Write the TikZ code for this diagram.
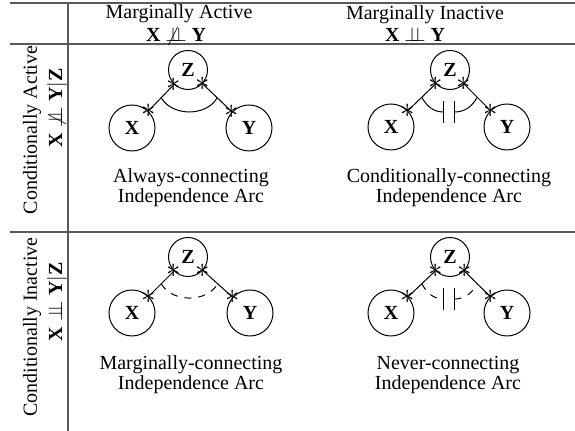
\documentclass[tikz,border=0pt]{standalone}
\usepackage{fontspec}
\setmainfont{Liberation Serif}
\usetikzlibrary{calc}
\newcommand{\myindep}{\mathrel{\perp\!\!\!\perp}}
\newcommand{\mynindep}{\mathrel{\not\perp\!\!\!\perp}}
\begin{document}
\begin{tikzpicture}[x=0.5pt,y=0.5pt,
  rule/.style={draw=black!65, line width=0.6pt},
  var/.style={circle, draw, line width=0.5pt, inner sep=0pt, minimum size=23pt, font=\normalsize},
  zvar/.style={circle, draw, line width=0.5pt, inner sep=0pt, minimum size=19.5pt, font=\normalsize},
  edge/.style={draw, line width=0.5pt},
  astk/.style={inner sep=0pt, font=\Large},
  arcline/.style={draw, line width=0.5pt},
  dasharc/.style={draw, line width=0.5pt, dash pattern=on 3.5pt off 3.5pt},
  txt/.style={anchor=base, inner sep=0pt}]
\useasboundingbox (0,0) rectangle (575,431);
% table rules
\draw[rule] (10,428) -- (575,428);
\draw[rule] (10,387) -- (575,387);
\draw[rule] (10,199) -- (575,199);
\draw[rule] (68,428) -- (68,0);
% headers
\node[txt] (h1) at (179,412) {Marginally Active};
\node[txt] (h1b) at (176,389) {\textbf{X} $\mynindep$ \textbf{Y}};
\node[txt] (h2) at (425,411) {Marginally Inactive};
\node[txt] (h2b) at (415,389) {\textbf{X} $\myindep$ \textbf{Y}};
% row headers
\node[txt, rotate=90] (r1) at (37,301) {Conditionally Active};
\node[txt, rotate=90] (r1b) at (62,323) {\textbf{X} $\mynindep$ \textbf{Y}$|$\textbf{Z}};
\node[txt, rotate=90] (r2) at (37,104) {Conditionally Inactive};
\node[txt, rotate=90] (r2b) at (62,129) {\textbf{X} $\myindep$ \textbf{Y}$|$\textbf{Z}};
% ---- panel 1
\node[zvar] (Z1) at (188,361) {$\mathbf{Z}$};
\node[var] (X1) at (132,303) {$\mathbf{X}$};
\node[var] (Y1) at (249,303) {$\mathbf{Y}$};
\draw[edge] (Z1) -- (X1) node[astk,pos=0]{$\ast$} node[astk,pos=1]{$\ast$} coordinate[pos=0.5] (a1);
\draw[edge] (Z1) -- (Y1) node[astk,pos=0]{$\ast$} node[astk,pos=1]{$\ast$} coordinate[pos=0.5] (b1);
\draw[arcline] (a1) to[out=-60,in=-120] (b1);
\node[txt] (l1) at (191,248) {Always-connecting};
\node[txt] (l1b) at (191,228) {Independence Arc};
% ---- panel 2
\node[zvar] (Z2) at (450,361) {$\mathbf{Z}$};
\node[var] (X2) at (391,304) {$\mathbf{X}$};
\node[var] (Y2) at (507,304) {$\mathbf{Y}$};
\draw[edge] (Z2) -- (X2) node[astk,pos=0]{$\ast$} node[astk,pos=1]{$\ast$} coordinate[pos=0.5] (a2);
\draw[edge] (Z2) -- (Y2) node[astk,pos=0]{$\ast$} node[astk,pos=1]{$\ast$} coordinate[pos=0.5] (b2);
\coordinate (m2l) at ($(Z2)+(-6.5,-42)$);
\coordinate (m2r) at ($(Z2)+(4.5,-42)$);
\draw[arcline] (a2) to[out=-60,in=180] (m2l);
\draw[arcline] (m2r) to[out=0,in=-120] (b2);
\draw[arcline] ($(m2l)+(0,-11)$) -- ($(m2l)+(0,11)$);
\draw[arcline] ($(m2r)+(0,-11)$) -- ($(m2r)+(0,11)$);
\node[txt] (l2) at (449,248) {Conditionally-connecting};
\node[txt] (l2b) at (449,228) {Independence Arc};
% ---- panel 3
\node[zvar] (Z3) at (188,174) {$\mathbf{Z}$};
\node[var] (X3) at (132,118) {$\mathbf{X}$};
\node[var] (Y3) at (250,118) {$\mathbf{Y}$};
\draw[edge] (Z3) -- (X3) node[astk,pos=0]{$\ast$} node[astk,pos=1]{$\ast$} coordinate[pos=0.5] (a3);
\draw[edge] (Z3) -- (Y3) node[astk,pos=0]{$\ast$} node[astk,pos=1]{$\ast$} coordinate[pos=0.5] (b3);
\draw[dasharc] (a3) to[out=-60,in=-120] (b3);
\node[txt] (l3) at (191,61) {Marginally-connecting};
\node[txt] (l3b) at (191,41) {Independence Arc};
% ---- panel 4
\node[zvar] (Z4) at (450,174) {$\mathbf{Z}$};
\node[var] (X4) at (391,118) {$\mathbf{X}$};
\node[var] (Y4) at (507,118) {$\mathbf{Y}$};
\draw[edge] (Z4) -- (X4) node[astk,pos=0]{$\ast$} node[astk,pos=1]{$\ast$} coordinate[pos=0.5] (a4);
\draw[edge] (Z4) -- (Y4) node[astk,pos=0]{$\ast$} node[astk,pos=1]{$\ast$} coordinate[pos=0.5] (b4);
\coordinate (m4l) at ($(Z4)+(-6.5,-42)$);
\coordinate (m4r) at ($(Z4)+(4.5,-42)$);
\draw[dasharc] (a4) to[out=-60,in=180] (m4l);
\draw[dasharc] (m4r) to[out=0,in=-120] (b4);
\draw[arcline] ($(m4l)+(0,-11)$) -- ($(m4l)+(0,11)$);
\draw[arcline] ($(m4r)+(0,-11)$) -- ($(m4r)+(0,11)$);
\node[txt] (l4) at (448,61) {Never-connecting};
\node[txt] (l4b) at (448,41) {Independence Arc};
\end{tikzpicture}
\end{document}
